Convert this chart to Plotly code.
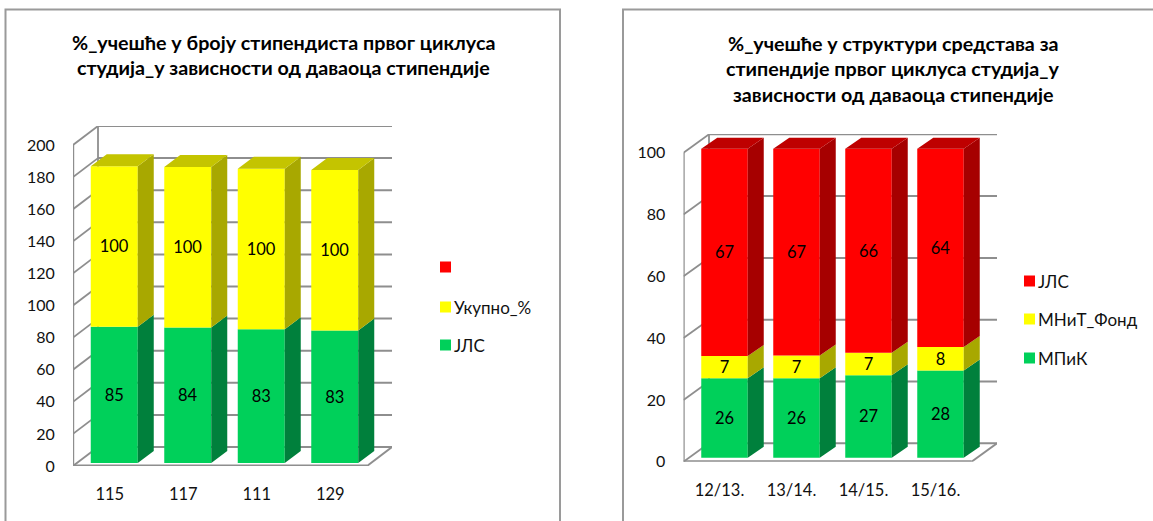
import plotly.graph_objects as go

W, H = 1153, 521

# ---- data ----
left_categories = ["115", "117", "111", "129"]
left_jls = [84.9, 84.4, 83.4, 82.6]
left_total = [100, 100, 100, 100]
left_ticks = [0, 20, 40, 60, 80, 100, 120, 140, 160, 180, 200]

right_categories = ["12/13.", "13/14.", "14/15.", "15/16."]
right_mpik = [25.7, 25.7, 26.7, 28.2]
right_fond = [7.2, 7.4, 7.3, 7.6]
right_jls = [67.1, 66.9, 66.0, 64.2]
right_ticks = [0, 20, 40, 60, 80, 100]

left_title = ["%_учешће у броју стипендиста првог циклуса", "студија_у зависности од даваоца стипендије"]
right_title = ["%_учешће у структури средстава за", "стипендије првог циклуса студија_у", "зависности од даваоца стипендије"]
left_legend = ["", "Укупно_%", "ЈЛС"]
right_legend = ["ЈЛС", "МНиТ_Фонд", "МПиК"]

# ---- styles ----
FONT = "Lato, 'Noto Sans', sans-serif"
GREEN, GREEN_SIDE = "#00D05A", "#00803C"
YELLOW, YELLOW_SIDE, YELLOW_TOP = "#FFFF00", "#A8A800", "#C4C400"
RED, RED_SIDE, RED_TOP = "#FF0000", "#A60000", "#BE0000"
GRID = "#8E8E8E"
FRAME = "#9A9A9A"

fig = go.Figure()
shapes, annotations = [], []


def px_x(x):
    return x / W


def px_y(y):
    return 1 - y / H


def chart(idx, cats, series, ticks, geo):
    xa, ya = f"x{idx if idx > 1 else ''}", f"y{idx if idx > 1 else ''}"
    xname, yname = f"xaxis{idx if idx > 1 else ''}", f"yaxis{idx if idx > 1 else ''}"
    sx, sy = geo["cat_px"], geo["val_px"]
    x0 = -0.5
    x1 = x0 + geo["front_w"] / sx
    wall_dx, wall_dy = geo["wall_dx"] / sx, geo["wall_dy"] / sy
    bar_dx, bar_dy = geo["shift_x"] / sx, geo["shift_y"] / sy
    side_dx, side_dy = geo["side_dx"] / sx, geo["side_dy"] / sy
    bw = geo["bar_w"] / sx
    top_val = ticks[-1]

    fig.update_layout(**{
        xname: dict(
            domain=[px_x(geo["left"]), px_x(geo["left"] + geo["front_w"] + geo["wall_dx"])],
            range=[x0, x1 + wall_dx], tickvals=list(range(len(cats))), ticktext=cats, automargin=False,
            showgrid=False, zeroline=False, showline=False, ticks="outside", ticklen=geo["xticklen"],
            tickcolor="rgba(0,0,0,0)", tickfont=dict(family=FONT, size=16.5, color="#111"), anchor=ya,
        ),
        yname: dict(
            domain=[px_y(geo["bottom"]), px_y(geo["top"])], automargin=False,
            range=[0, (geo["bottom"] - geo["top"]) / sy], tickvals=ticks,
            showgrid=False, zeroline=False, showline=False, ticks="outside", ticklen=geo["yticklen"],
            tickcolor="rgba(0,0,0,0)", tickfont=dict(family=FONT, size=16, color="#111"), anchor=xa,
        ),
    })

    def seg(a, b, c, d, width=2):
        shapes.append(dict(type="line", xref=xa, yref=ya, x0=a, y0=b, x1=c, y1=d, layer="below",
                           line=dict(color=GRID, width=width)))

    # walls and gridlines
    for t in ticks:
        seg(x0, t, x0 + wall_dx, t + wall_dy, 1.8)
        seg(x0 + wall_dx, t + wall_dy, x1 + wall_dx, t + wall_dy, 2)
    seg(x0, 0, x0, top_val, 2.4)
    seg(x0 + wall_dx, wall_dy, x0 + wall_dx, top_val + wall_dy, 1.8)
    seg(x0, 0, x1, 0, 3)
    seg(x1, 0, x1 + wall_dx, wall_dy, 2)

    # stacked front faces with their side and top faces
    n = len(cats)
    cum = [bar_dy] * n
    for s_i, (vals, front, side, top) in enumerate(series):
        xs = [i + bar_dx for i in range(n)]
        fig.add_trace(go.Bar(
            x=xs, y=vals, base=list(cum), width=bw, xaxis=xa, yaxis=ya,
            marker=dict(color=front, line=dict(width=0)), texttemplate="%{y:.0f}",
            textposition="inside", insidetextanchor="middle", textangle=0, constraintext="none",
            textfont=dict(family=FONT, size=16.5, color="#000"), showlegend=False, hoverinfo="skip",
        ))
        side_x, side_y = [], []
        for i in range(n):
            r = xs[i] + bw / 2
            lo, hi = cum[i], cum[i] + vals[i]
            side_x += [r, r + side_dx, r + side_dx, r, r, None]
            side_y += [lo, lo + side_dy, hi + side_dy, hi, lo, None]
        fig.add_trace(go.Scatter(x=side_x, y=side_y, xaxis=xa, yaxis=ya, mode="lines", fill="toself",
                                 fillcolor=side, line=dict(width=0), showlegend=False, hoverinfo="skip"))
        cum = [c + v for c, v in zip(cum, vals)]
        if s_i == len(series) - 1:
            top_x, top_y = [], []
            for i in range(n):
                l, r = xs[i] - bw / 2, xs[i] + bw / 2
                hi = cum[i]
                top_x += [l, r, r + side_dx, l + side_dx, l, None]
                top_y += [hi, hi, hi + side_dy, hi + side_dy, hi, None]
            fig.add_trace(go.Scatter(x=top_x, y=top_y, xaxis=xa, yaxis=ya, mode="lines", fill="toself",
                                     fillcolor=top, line=dict(width=0), showlegend=False, hoverinfo="skip"))


chart(1, left_categories,
      [(left_jls, GREEN, GREEN_SIDE, None), (left_total, YELLOW, YELLOW_SIDE, YELLOW_TOP)],
      left_ticks,
      dict(left=73, top=126, bottom=466, front_w=294, wall_dx=25, wall_dy=19, cat_px=73.5, val_px=1.605,
           shift_x=4.5, shift_y=3, side_dx=16, side_dy=12, bar_w=47, xticklen=13, yticklen=14))
chart(2, right_categories,
      [(right_mpik, GREEN, GREEN_SIDE, None), (right_fond, YELLOW, YELLOW_SIDE, None),
       (right_jls, RED, RED_SIDE, RED_TOP)],
      right_ticks,
      dict(left=683.5, top=134, bottom=461.7, front_w=288, wall_dx=25.5, wall_dy=18.4, cat_px=72, val_px=3.09,
           shift_x=5, shift_y=4, side_dx=16, side_dy=11, bar_w=46.5, xticklen=13, yticklen=14))

# chart frames
for xa_, xb_ in ((5.5, 560), (623, W + 5)):
    shapes.append(dict(type="rect", xref="paper", yref="paper", x0=px_x(xa_), x1=px_x(xb_),
                       y0=px_y(H + 5), y1=px_y(9.5), line=dict(color=FRAME, width=2), layer="below"))


def text(x, y, s, size, bold=False, anchor="left", color="#111"):
    annotations.append(dict(xref="paper", yref="paper", x=px_x(x), y=px_y(y), text=f"<b>{s}</b>" if bold else s,
                            showarrow=False, xanchor=anchor, yanchor="middle", align="center",
                            font=dict(family=FONT, size=size, color=color)))


for line, y in zip(left_title, (43, 68)):
    text(283.5, y, line, 19.7, bold=True, anchor="center", color="#000")
for line, y in zip(right_title, (43.5, 68.5, 94.5)):
    text(893, y, line, 19.7, bold=True, anchor="center", color="#000")

# legends
for (sw_x, txt_x, rows, labels) in (
    (440, 452, [(267, RED), (307, YELLOW), (345, GREEN)], left_legend),
    (1024, 1036, [(281, RED), (319, YELLOW), (358, GREEN)], right_legend),
):
    for (y, color), label in zip(rows, labels):
        shapes.append(dict(type="rect", xref="paper", yref="paper", x0=px_x(sw_x), x1=px_x(sw_x + 11),
                           y0=px_y(y + 5.5), y1=px_y(y - 5.5), fillcolor=color, line=dict(width=0)))
        if label:
            text(txt_x, y, label, 17)

fig.update_layout(width=W, height=H, margin=dict(l=0, r=0, t=0, b=0, pad=0), paper_bgcolor="white",
                  plot_bgcolor="rgba(0,0,0,0)", barmode="overlay", showlegend=False,
                  shapes=shapes, annotations=annotations)
fig.write_html("out.html", config=dict(displayModeBar=False),
               post_script="document.body.style.margin='0';document.body.style.overflow='hidden';")
